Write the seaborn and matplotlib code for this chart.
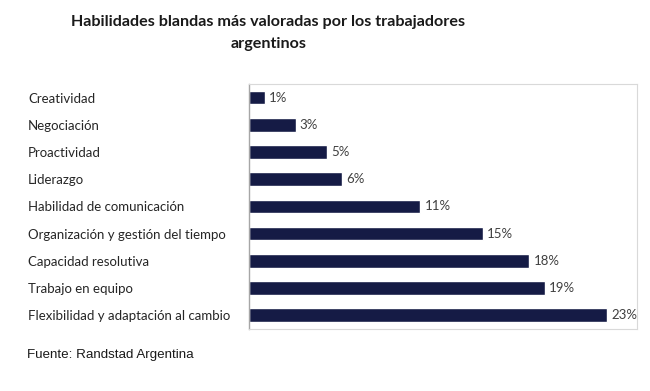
import matplotlib
matplotlib.use("Agg")
import matplotlib.pyplot as plt
import seaborn as sns
import pandas as pd

categories = [
    "Creatividad",
    "Negociación",
    "Proactividad",
    "Liderazgo",
    "Habilidad de comunicación",
    "Organización y gestión del tiempo",
    "Capacidad resolutiva",
    "Trabajo en equipo",
    "Flexibilidad y adaptación al cambio",
]
values = [1, 3, 5, 6, 11, 15, 18, 19, 23]

title = "Habilidades blandas más valoradas por los trabajadores\nargentinos"
source = "Fuente: Randstad Argentina"

df = pd.DataFrame({"habilidad": categories, "pct": values})

sns.set_style("white")
plt.rcParams["font.family"] = ["Lato", "DejaVu Sans"]

fig = plt.figure(figsize=(6.5, 3.91), dpi=100)
ax = fig.add_axes([0.383, 0.159, 0.597, 0.626])

sns.barplot(data=df, x="pct", y="habilidad", color="#151b45", width=0.5,
            saturation=1, ax=ax)
ax.bar_label(ax.containers[0], fmt="%d%%", padding=3, fontsize=9.5, color="#404040")

ax.set_xlim(0, 24.9)
ax.set_ylim(8.5, -0.5)
ax.set_xlabel("")
ax.set_ylabel("")
ax.set_xticks([])

ax.tick_params(axis="y", length=0, pad=159, labelsize=9.5, labelcolor="#262626")
for lab in ax.get_yticklabels():
    lab.set_ha("left")

for side in ["top", "right", "bottom"]:
    ax.spines[side].set_color("#d9d9d9")
    ax.spines[side].set_linewidth(0.8)
ax.spines["left"].set_color("#a6a6a6")
ax.spines["left"].set_linewidth(1.0)

fig.text(0.413, 0.915, title, ha="center", va="center", multialignment="center",
         fontsize=11.6, fontweight="bold", color="#1a1a1a", linespacing=1.75)
fig.text(0.042, 0.092, source, ha="left", va="center", fontsize=9.6,
         family=["Liberation Sans", "DejaVu Sans"], color="#1a1a1a")

fig.savefig("out.png", dpi=100)
